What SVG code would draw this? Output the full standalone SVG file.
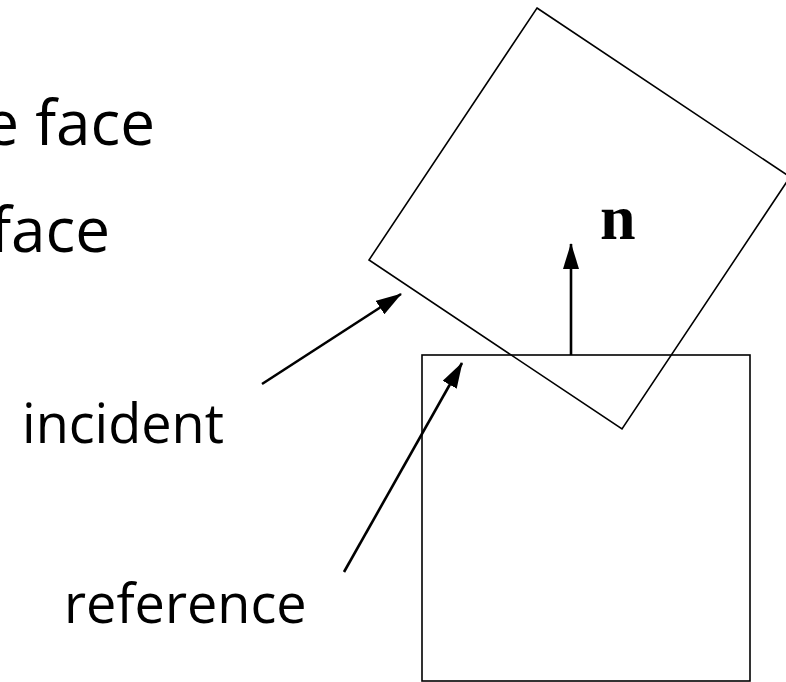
<svg xmlns="http://www.w3.org/2000/svg" width="786" height="682" viewBox="0 0 786 682">
<style>
.lbl{font-family:"Open Sans","Noto Sans","Liberation Sans",sans-serif;fill:#000}
.shape{fill:none;stroke:#000;stroke-width:1.6}
.arr{fill:none;stroke:#000;stroke-width:2.6}
</style>
<defs>
<marker id="ah" markerUnits="userSpaceOnUse" markerWidth="26" markerHeight="16" refX="25" refY="8" orient="auto">
<path d="M0,0 L26,8 L0,16 z" fill="#000"/>
</marker>
</defs>
<rect width="786" height="682" fill="#fff"/>
<g id="heading">
<text class="lbl" x="155" y="145" font-size="62" text-anchor="end">e face</text>
<text class="lbl" x="110" y="252" font-size="62" text-anchor="end">face</text>
</g>
<g id="reference-box">
<rect class="shape" x="422" y="355" width="328" height="326"/>
</g>
<g id="incident-box">
<polygon class="shape" points="537,8 790,177 622,429 369,260"/>
</g>
<g id="normal-label">
<text x="600" y="239" font-family="Liberation Serif,'Times New Roman',serif" font-weight="bold" font-size="64">n</text>
</g>
<g id="label-incident">
<text class="lbl" x="22" y="443" font-size="54">incident</text>
</g>
<g id="label-reference">
<text class="lbl" x="64" y="623" font-size="54">reference</text>
</g>
<g id="connectors">
<line class="arr" x1="571" y1="355" x2="571" y2="244" marker-end="url(#ah)"/>
<line class="arr" x1="262" y1="384" x2="401" y2="294" marker-end="url(#ah)"/>
<line class="arr" x1="344" y1="572" x2="462" y2="363" marker-end="url(#ah)"/>
</g>
</svg>
